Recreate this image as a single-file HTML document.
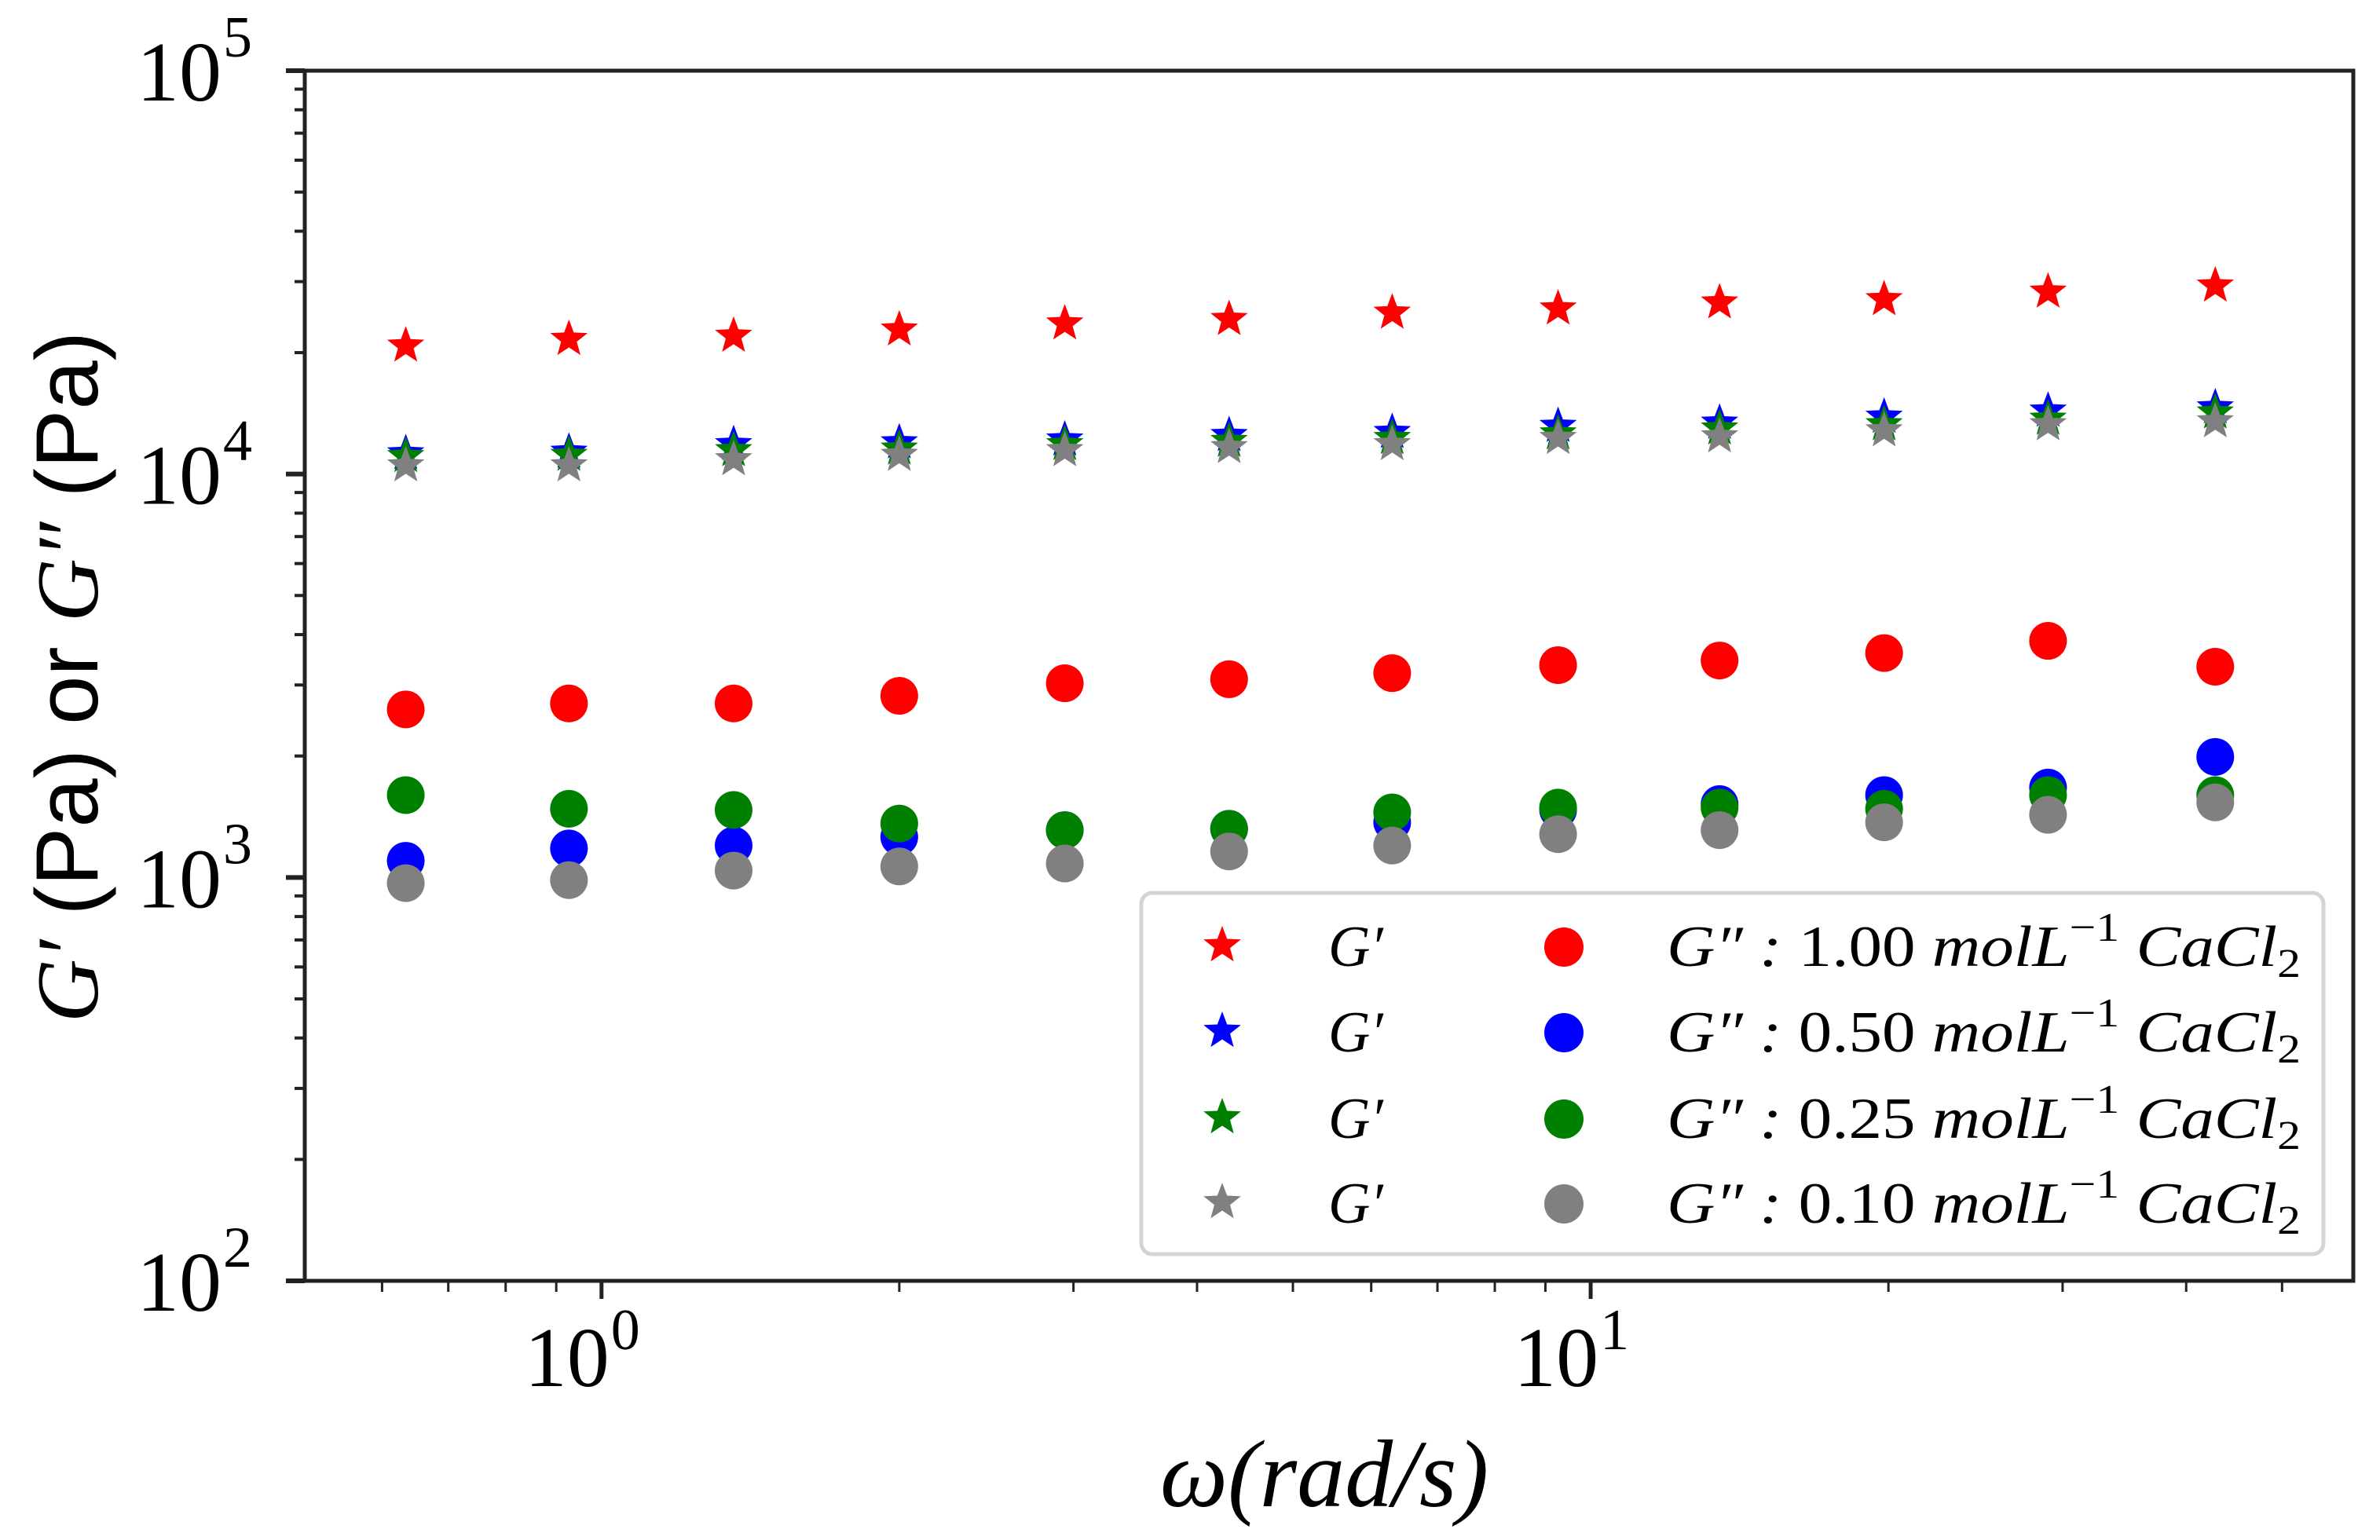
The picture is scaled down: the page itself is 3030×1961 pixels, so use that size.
<!DOCTYPE html>
<html><head><meta charset="utf-8"><style>html,body{margin:0;padding:0;background:#fff}svg{display:block}</style></head>
<body>
<svg id="chart" width="3030" height="1961" viewBox="0 0 3030 1961" xmlns="http://www.w3.org/2000/svg" font-family="'Liberation Serif', serif">
<g id="marks"></g>
<g id="axes"></g>
</svg>
<script>
const omega = [0.634, 0.927, 1.36, 2.0, 2.94, 4.31, 6.30, 9.27, 13.5, 19.8, 29.0, 42.8];
const gPrime100 = [20800, 21600, 22000, 22800, 23600, 24200, 25100, 25700, 26600, 27100, 28300, 29300];
const gPrime050 = [11250, 11350, 11850, 11970, 12170, 12480, 12700, 13150, 13390, 13860, 14350, 14620];
const gPrime025 = [11070, 11150, 11450, 11550, 11850, 12070, 12270, 12600, 12960, 13270, 13700, 14200];
const gPrime010 = [10500, 10500, 10870, 11150, 11450, 11650, 11850, 12270, 12390, 12820, 13270, 13500];
const gDouble100 = [2610, 2700, 2700, 2820, 3030, 3100, 3210, 3360, 3450, 3600, 3860, 3330];
const gDouble050 = [1100, 1180, 1200, 1260, 1310, 1320, 1370, 1470, 1520, 1600, 1670, 1990];
const gDouble025 = [1600, 1480, 1470, 1360, 1310, 1320, 1450, 1490, 1490, 1480, 1600, 1600];
const gDouble010 = [968, 985, 1040, 1065, 1083, 1160, 1200, 1280, 1310, 1370, 1430, 1535];
const seriesColors = ['red', 'blue', 'green', 'gray'];
const concLabels = ['1.00', '0.50', '0.25', '0.10'];
const yTickExps = [2, 3, 4, 5];
const xTickExps = [0, 1];

const NS = 'http://www.w3.org/2000/svg';
const L = 388, R = 2996, T = 90, B = 1631;
const xMinLog = -0.300, xMaxLog = 1.771;
const xs = v => L + (Math.log10(v) - xMinLog) / (xMaxLog - xMinLog) * (R - L);
const ys = v => B - (Math.log10(v) - 2) / 3 * (B - T);
function mk(tag, attrs, parent) {
  const e = document.createElementNS(NS, tag);
  for (const k in attrs) e.setAttribute(k, attrs[k]);
  parent.appendChild(e);
  return e;
}
function starPts(cx, cy, r) {
  const p = [];
  for (let i = 0; i < 10; i++) {
    const a = -Math.PI / 2 + i * Math.PI / 5;
    const rr = i % 2 ? r * 0.42 : r;
    p.push((cx + rr * Math.cos(a)).toFixed(1) + ',' + (cy + rr * Math.sin(a)).toFixed(1));
  }
  return p.join(' ');
}
const marks = document.getElementById('marks');
const axes = document.getElementById('axes');
const gd = [gDouble100, gDouble050, gDouble025, gDouble010];
const gp = [gPrime100, gPrime050, gPrime025, gPrime010];
for (let s = 0; s < 4; s++) {
  gd[s].forEach((v, i) => {
    const c = mk('circle', {cx: xs(omega[i]), cy: ys(v), r: 24, fill: seriesColors[s]}, marks);
    
    
  });
}
for (let s = 0; s < 4; s++) {
  gp[s].forEach((v, i) => {
    const c = mk('polygon', {points: starPts(xs(omega[i]), ys(v), 25), fill: seriesColors[s]}, marks);
    
    
  });
}
const fr = mk('rect', {x: L, y: T, width: R - L, height: B - T, fill: 'none', stroke: '#222', 'stroke-width': 5}, axes);


for (let e = 2; e <= 5; e++) {
  for (let m = 1; m <= 9; m++) {
    if (e === 5 && m > 1) break;
    const y = ys(m * Math.pow(10, e));
    const tk = mk('line', {x1: L - (m === 1 ? 24 : 13), x2: L, y1: y, y2: y, stroke: '#222', 'stroke-width': m === 1 ? 6 : 4}, axes);
    
    
  }
}
yTickExps.forEach(e => {
  const y = ys(Math.pow(10, e));
  const t = mk('text', {x: 282, y: y + 38, 'font-size': 108, 'text-anchor': 'end'}, axes);
  t.textContent = '10';
  
  
  const sup = mk('text', {x: 284, y: y - 18, 'font-size': 74}, axes);
  sup.textContent = String(e);
  
  
});
for (let e = -1; e <= 1; e++) {
  for (let m = 1; m <= 9; m++) {
    const v = m * Math.pow(10, e);
    const lv = Math.log10(v);
    if (lv < xMinLog - 0.001 || lv > xMaxLog + 0.001) continue;
    const x = xs(v);
    const tk = mk('line', {x1: x, x2: x, y1: B, y2: B + (m === 1 ? 23 : 14), stroke: '#222', 'stroke-width': m === 1 ? 5 : 3}, axes);
    
    
  }
}
xTickExps.forEach(e => {
  const x = xs(Math.pow(10, e));
  const t = mk('text', {x: x + 10, y: 1765, 'font-size': 108, 'text-anchor': 'end'}, axes);
  t.textContent = '10';
  
  
  const sup = mk('text', {x: x + 12, y: 1718, 'font-size': 74}, axes);
  sup.textContent = String(e);
  
  
});
const xl = mk('text', {x: 1686, y: 1918, 'font-size': 122, 'font-style': 'italic', 'text-anchor': 'middle'}, axes);
xl.textContent = 'ω(rad/s)';


const yl = mk('text', {x: 0, y: 0, 'font-size': 112, 'text-anchor': 'middle', transform: 'translate(124,862) rotate(-90)', 'font-family': "'Liberation Sans', sans-serif"}, axes);
yl.innerHTML = '<tspan font-family="Liberation Serif" font-style="italic">G′</tspan> (Pa) or <tspan font-family="Liberation Serif" font-style="italic">G″</tspan> (Pa)';


const lg = mk('g', {}, axes);


const lb = mk('rect', {x: 1453, y: 1137, width: 1505, height: 460, rx: 14, fill: '#fff', stroke: '#d4d4d4', 'stroke-width': 5}, lg);


const rowY = [1204, 1313, 1423, 1531];
for (let s = 0; s < 4; s++) {
  const y = rowY[s];
  const st = mk('polygon', {points: starPts(1556, y, 25), fill: seriesColors[s]}, lg);
  
  
  const t1 = mk('text', {x: 1691, y: y + 26, 'font-size': 74, 'font-style': 'italic'}, lg);
  t1.textContent = 'G′';
  
  
  const ci = mk('circle', {cx: 1991, cy: y + 2, r: 25, fill: seriesColors[s]}, lg);
  
  
  const t2 = mk('text', {x: 2122, y: y + 26, 'font-size': 74, 'font-style': 'italic', textLength: 807, lengthAdjust: 'spacingAndGlyphs'}, lg);
  t2.innerHTML = 'G″ : <tspan font-style="normal">' + concLabels[s] + '</tspan> molL<tspan dy="-32" font-size="52" font-style="normal">−1</tspan><tspan dy="32"> CaCl</tspan><tspan dy="14" font-size="52" font-style="normal">2</tspan>';
  
  
}
</script>
</body></html>
